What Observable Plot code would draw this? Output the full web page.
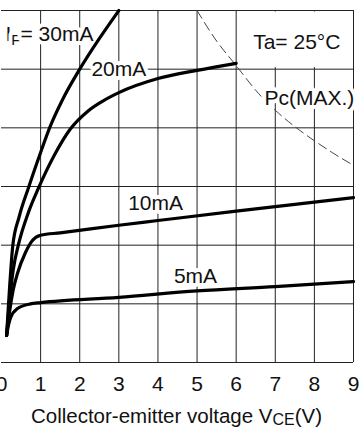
<!DOCTYPE html>
<html>
<head>
<meta charset="utf-8">
<script src="https://cdn.jsdelivr.net/npm/d3@7"></script>
<script src="https://cdn.jsdelivr.net/npm/@observablehq/plot@0.6"></script>
<style>
  html, body { margin: 0; padding: 0; background: #fff; }
  #chart svg { display: block; }
  .caption { font-family: "Liberation Sans", Arial, sans-serif; font-size: 20.5px; line-height: 32px;
             width: 353px; text-align: center; color: #111; white-space: nowrap; }
  .caption .sub { font-size: 16px; position: relative; top: 2px; }
</style>
</head>
<body>
<div id="chart"></div>
<div class="caption">Collector-emitter voltage V<span class="sub">CE</span>(V)</div>
<script>
// ---- axes ----
const xTicks = [0, 1, 2, 3, 4, 5, 6, 7, 8, 9];      // Collector-emitter voltage (V)
const yGrid  = [0, 5, 10, 15, 20, 25, 30];          // Collector current (mA), unlabeled

// ---- I_F = 30 mA ----
const v30 = [0.13, 0.18, 0.29, 0.45, 0.69, 1.0, 1.23, 1.56, 2.0, 2.5, 3.0];
const i30 = [2.3, 5.0, 10.0, 12.4, 14.9, 17.9, 20.0, 22.4, 25.0, 27.6, 30.0];
// ---- I_F = 20 mA ----
const v20 = [0.13, 0.2, 0.3, 0.43, 0.7, 0.95, 1.34, 1.76, 2.2, 2.6, 3.0, 4.0, 5.0, 6.0];
const i20 = [2.3, 5.0, 7.9, 10.0, 12.9, 14.9, 17.6, 19.9, 21.4, 22.3, 23.0, 24.2, 24.9, 25.5];
// ---- I_F = 10 mA ----
const v10 = [0.13, 0.2, 0.3, 0.41, 0.61, 0.79, 1.0, 1.5, 3.0, 4.0, 6.0, 9.0];
const i10 = [2.3, 4.2, 6.2, 7.6, 9.35, 10.4, 10.85, 11.05, 11.7, 12.1, 12.9, 14.05];
// ---- I_F = 5 mA ----
const v5 = [0.13, 0.18, 0.23, 0.41, 0.74, 1.0, 3.0, 5.0, 7.0, 9.0];
const i5 = [2.3, 3.2, 3.8, 4.6, 5.0, 5.1, 5.55, 6.1, 6.47, 6.9];
// ---- Pc(MAX.) ----
const pcV = [5.0, 5.5, 6.0, 6.5, 7.0, 7.5, 8.0, 8.5, 9.0];
const pcI = [30.0, 27.4, 25.3, 23.2, 21.5, 20.1, 18.9, 17.8, 16.8];

// ---- annotations ----
const ifText = ["I_F= 30mA"];
const ifV = [0.1];
const ifI = [28.0];
const labelText = ["20mA", "10mA", "5mA", "Pc(MAX.)"];
const labelV    = [3.0, 3.94, 4.96, 7.87];
const labelI    = [25.0, 13.6, 7.35, 22.5];
const tempText = ["Ta= 25°C"];
const tempV = [7.55];
const tempI = [27.3];
const tempBoxV = [6, 9];
const tempBoxI = [25, 30];

const zip = (vs, is) => vs.map((v, k) => ({v, i: is[k]}));
const curves = [zip(v30, i30), zip(v20, i20), zip(v10, i10), zip(v5, i5)];
const toRows = (ts, vs, is) => ts.map((t, k) => ({t, v: vs[k], i: is[k]}));
const FONT = "Liberation Sans, Arial, sans-serif";
const halo = {fontSize: 21, fontFamily: FONT, fill: "#111", stroke: "white", strokeWidth: 8,
              strokeLinejoin: "round", paintOrder: "stroke"};

const marks = [
  Plot.ruleY(yGrid, {y: d => d, x1: xTicks[0], x2: xTicks[xTicks.length - 1], stroke: "#222", strokeWidth: 1}),
  Plot.ruleX(xTicks.filter(d => d > 0), {x: d => d, y1: yGrid[0], y2: yGrid[yGrid.length - 1], stroke: "#222", strokeWidth: 1}),
  Plot.rect([{x1: tempBoxV[0], x2: tempBoxV[1], y1: tempBoxI[0], y2: tempBoxI[1]}],
            {x1: "x1", x2: "x2", y1: "y1", y2: "y2", fill: "white", inset: 1.5}),
  Plot.line(zip(pcV, pcI), {x: "v", y: "i", stroke: "#444", strokeWidth: 1, strokeDasharray: "9,5", curve: "natural"}),
  Plot.text(toRows(labelText, labelV, labelI), {x: "v", y: "i", text: "t", textAnchor: "middle", ...halo}),
  Plot.text(toRows(ifText, ifV, ifI), {x: "v", y: "i", text: "t", textAnchor: "start", ...halo}),
  Plot.text(toRows(tempText, tempV, tempI), {x: "v", y: "i", text: "t", fontSize: 21, fontFamily: FONT, fill: "#111"}),
  ...curves.map(c => Plot.line(c, {x: "v", y: "i", stroke: "#000", strokeWidth: 3.2, curve: "monotone-x"}))
];

const plot = Plot.plot({
  width: 360,
  height: 400,
  marginLeft: 1,
  marginRight: 7,
  marginTop: 10,
  marginBottom: 38,
  style: {fontFamily: FONT, fontSize: "21px", color: "#111", background: "white"},
  x: {domain: [0, 9], ticks: xTicks, tickSize: 0, tickPadding: 14, tickFormat: d => String(d), label: null},
  y: {domain: [0, 30], axis: null},
  marks
});
document.getElementById("chart").appendChild(plot);

// subscript F in the I_F label
d3.select(plot).selectAll("text").each(function () {
  if (this.textContent === ifText[0]) {
    const t = d3.select(this);
    t.text(null);
    t.append("tspan").text("I");
    t.append("tspan").attr("font-size", 15).attr("dy", 4).text("F");
    t.append("tspan").attr("dy", -4).text("= 30mA");
  }
});
</script>
</body>
</html>
